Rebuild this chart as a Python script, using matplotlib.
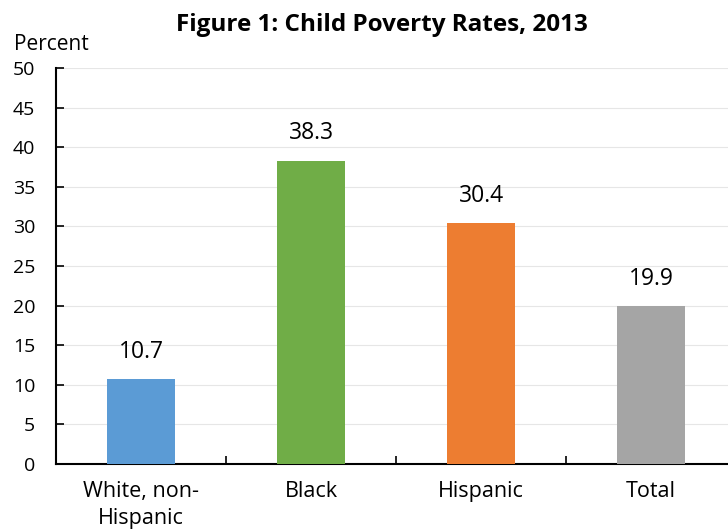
import matplotlib
matplotlib.use("Agg")
import matplotlib.pyplot as plt

categories = ["White, non-\nHispanic", "Black", "Hispanic", "Total"]
values = [10.7, 38.3, 30.4, 19.9]
colors = ["#5b9bd5", "#70ad47", "#ed7d31", "#a5a5a5"]
yticks = [0, 5, 10, 15, 20, 25, 30, 35, 40, 45, 50]

plt.rcParams['font.family'] = ['Open Sans', 'DejaVu Sans']

fig = plt.figure(figsize=(7.28, 5.29), dpi=100)
ax = fig.add_axes([56/728, 1-464/529, 680/728, (464-68)/529])

x = list(range(len(categories)))
ax.bar(x, values, width=0.4, color=colors, zorder=3)
for xi, v in zip(x, values):
    ax.text(xi, v + 3.45, f"{v}", ha="center", va="center", fontsize=16.5)

ax.set_xlim(-0.5, 3.5)
ax.set_ylim(0, 50)
ax.set_yticks(yticks)
ax.set_yticklabels([str(t) for t in yticks], fontsize=14)
ax.yaxis.grid(True, color="#e6e6e6", linewidth=0.8, zorder=0)
ax.set_axisbelow(True)

ax.set_xticks(x)
ax.set_xticklabels(categories, fontsize=15.5, linespacing=1.4)
ax.tick_params(axis="x", length=0, pad=12)
ax.set_xticks([0.5, 1.5, 2.5], minor=True)
ax.tick_params(axis="x", which="minor", direction="in", length=6, width=1.2)
ax.tick_params(axis="y", direction="in", length=6, width=1.2, pad=15)

for s in ["top", "right"]:
    ax.spines[s].set_visible(False)
for s in ["left", "bottom"]:
    ax.spines[s].set_linewidth(1.5)

fig.text(382/728, 1-25/529, "Figure 1: Child Poverty Rates, 2013", ha="center", va="center",
         fontsize=17.5, fontweight="bold")
fig.text(51/728, 1-44/529, "Percent", ha="center", va="center", fontsize=15)

fig.savefig("out.png", dpi=100)
